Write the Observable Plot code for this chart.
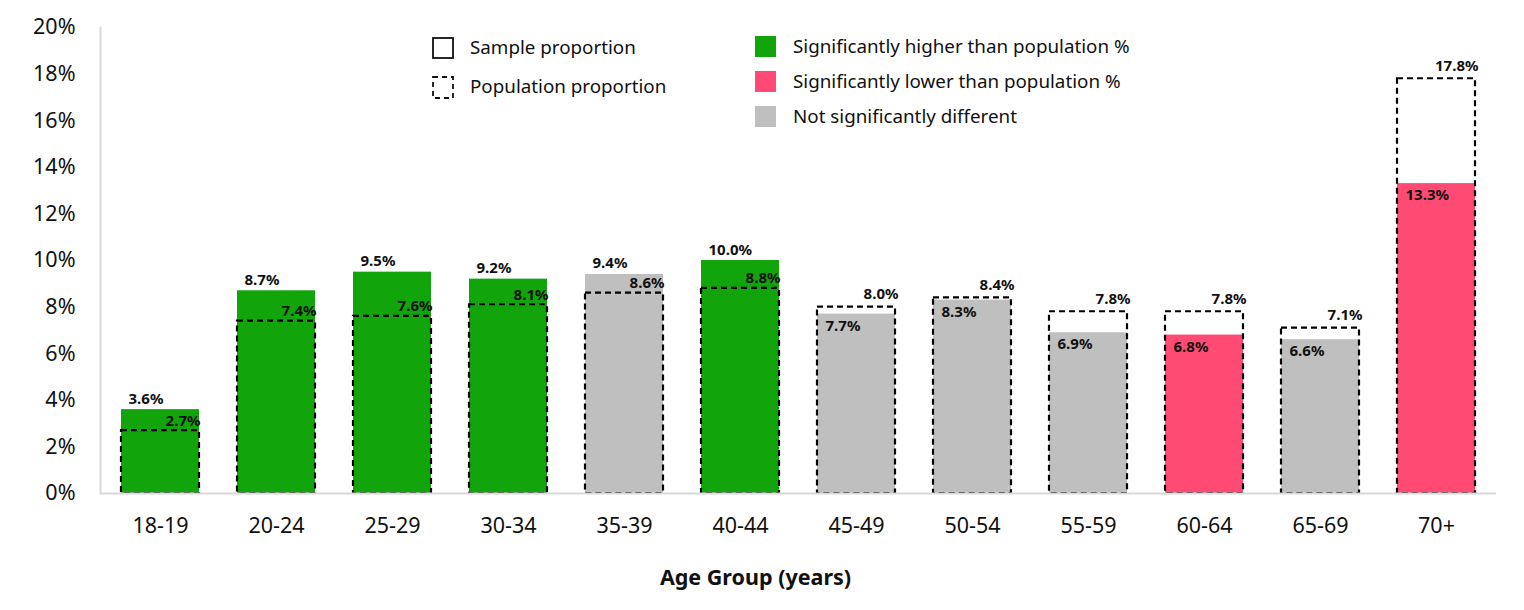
<!DOCTYPE html>
<html>
<head>
<meta charset="utf-8">
<script src="https://cdn.jsdelivr.net/npm/d3@7"></script>
<script src="https://cdn.jsdelivr.net/npm/@observablehq/plot@0.6"></script>
<style>
  body { margin: 0; background: #fff; font-family: "Noto Sans", sans-serif; }
  #wrap { position: relative; width: 1524px; height: 610px; }
  #chart svg { display: block; }
  .legend { position: absolute; font-family: "Noto Sans", sans-serif; font-size: 18.8px; color: #111; }
  .item { position: absolute; white-space: nowrap; height: 22px; line-height: 22px; }
  .sw { position: absolute; left: 0; top: 0; box-sizing: border-box; }
  .item svg { position: absolute; left: 0; top: 0; overflow: visible; }
  .item span.t { position: absolute; left: 38px; top: -1px; }
</style>
</head>
<body>
<div id="wrap">
  <div id="chart"></div>
</div>
<script>
const ageGroups = ["18-19","20-24","25-29","30-34","35-39","40-44","45-49","50-54","55-59","60-64","65-69","70+"];
const sampleValues = [3.6, 8.7, 9.5, 9.2, 9.4, 10.0, 7.7, 8.3, 6.9, 6.8, 6.6, 13.3];
const populationValues = [2.7, 7.4, 7.6, 8.1, 8.6, 8.8, 8.0, 8.4, 7.8, 7.8, 7.1, 17.8];
const significance = ["higher","higher","higher","higher","none","higher","none","none","none","lower","none","lower"];
const yTicks = [0, 2, 4, 6, 8, 10, 12, 14, 16, 18, 20];
const xTitle = "Age Group (years)";

const statusLabels = {
  higher: "Significantly higher than population %",
  lower: "Significantly lower than population %",
  none: "Not significantly different"
};
const statusColors = { higher: "#12A50B", lower: "#FF4B73", none: "#BFBFBF" };

const data = ageGroups.map((a, i) => ({
  age: a, sample: sampleValues[i], pop: populationValues[i], status: significance[i]
}));
const above = data.filter(d => d.sample >= d.pop);
const below = data.filter(d => d.sample < d.pop);
const fmt = v => v.toFixed(1) + "%";

const half = 39;
const labelFont = { fontSize: 15, fontWeight: "bold", fill: "#111" };

const chart = Plot.plot({
  width: 1524,
  height: 610,
  marginLeft: 100,
  marginRight: 28,
  marginTop: 27,
  marginBottom: 117,
  style: { fontFamily: "Noto Sans, sans-serif", color: "#111", background: "#fff" },
  x: { domain: ageGroups, paddingInner: 0.33, paddingOuter: 0.155, label: null },
  y: { domain: [0, 20], ticks: yTicks, tickFormat: d => d + "%", label: null },
  color: { domain: Object.keys(statusColors), range: Object.values(statusColors) },
  marks: [
    Plot.barY(data, { x: "age", y: "sample", fill: "status" }),
    Plot.barY(data, { x: "age", y: "pop", fill: "none", stroke: "#000", strokeWidth: 2.2, strokeDasharray: "6,4" }),
    Plot.ruleY([0], { stroke: "#d9d9d9", strokeWidth: 2 }),
    Plot.frame({ anchor: "left", stroke: "#d9d9d9", strokeWidth: 2 }),
    Plot.axisY({ ticks: yTicks, tickFormat: d => d + "%", tickSize: 0, tickPadding: 25, fontSize: 21.5, label: null }),
    Plot.axisX({ tickSize: 0, tickPadding: 24, fontSize: 21.5, label: null }),
    Plot.text([xTitle], { frameAnchor: "bottom", dx: -43, dy: 91, fontSize: 21.5, fontWeight: "bold", fill: "#111" }),
    // sample labels above bars (sample >= population)
    Plot.text(above, { x: "age", y: "sample", text: d => fmt(d.sample), textAnchor: "start", lineAnchor: "bottom", dx: -half + 7, dy: -6, ...labelFont }),
    // population labels inside, right-aligned just above the dashed top
    Plot.text(above, { x: "age", y: "pop", text: d => fmt(d.pop), textAnchor: "end", lineAnchor: "bottom", dx: half + 1, dy: -5, ...labelFont }),
    // population labels above dashed boxes (sample < population)
    Plot.text(below, { x: "age", y: "pop", text: d => fmt(d.pop), textAnchor: "end", lineAnchor: "bottom", dx: half + 3, dy: -8, ...labelFont }),
    // sample labels inside bars (sample < population)
    Plot.text(below, { x: "age", y: "sample", text: d => fmt(d.sample), textAnchor: "start", lineAnchor: "top", dx: -half + 8, dy: 6, ...labelFont })
  ]
});
document.getElementById("chart").appendChild(chart);

// Legend
const wrap = document.getElementById("wrap");
const legend = document.createElement("div");
legend.className = "legend";
legend.style.left = "0px"; legend.style.top = "0px";
wrap.appendChild(legend);

function addItem(left, top, swatch, label) {
  const it = document.createElement("div");
  it.className = "item";
  it.style.left = left + "px"; it.style.top = top + "px";
  if (typeof swatch === "string") {
    it.insertAdjacentHTML("beforeend", swatch);
  } else {
    const sw = document.createElement("div");
    sw.className = "sw";
    Object.assign(sw.style, swatch);
    it.appendChild(sw);
  }
  const t = document.createElement("span");
  t.className = "t"; t.textContent = label;
  it.appendChild(t);
  legend.appendChild(it);
}
addItem(432, 37, '<svg width="22" height="22"><rect x="1" y="1" width="20" height="20" fill="none" stroke="#111" stroke-width="1.8"/></svg>', "Sample proportion");
addItem(432, 76, '<svg width="22" height="23"><rect x="1" y="1" width="20" height="21" fill="none" stroke="#111" stroke-width="1.8" stroke-dasharray="5,4"/></svg>', "Population proportion");
addItem(755, 36, { background: statusColors.higher, width: "21px", height: "21px" }, statusLabels.higher);
addItem(755, 71, { background: statusColors.lower, width: "21px", height: "21px" }, statusLabels.lower);
addItem(755, 106, { background: statusColors.none, width: "21px", height: "21px" }, statusLabels.none);
</script>
</body>
</html>
